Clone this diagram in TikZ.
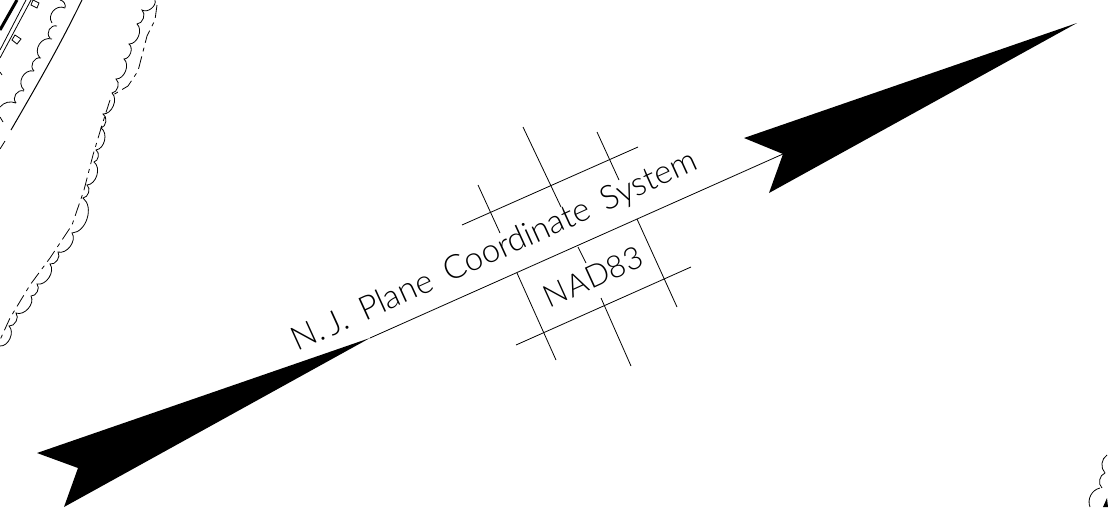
\documentclass[tikz,border=0pt]{standalone}
\usepackage{fontspec}
\newfontfamily\cadfont[WordSpace=1.7]{Lato Light}
\tikzset{
	gridline/.style={line width=0.8pt},
	arrowfill/.style={fill=black, draw=none},
	scallop/.style={bend left=70},
	scallopb/.style={bend right=75, looseness=1.25},
	dashdot/.style={line width=0.8pt, dash pattern=on 13pt off 5pt on 4pt off 5pt},
	labeltext/.style={font=\cadfont\fontsize{33}{33}\selectfont, rotate=24.5, inner sep=0pt},
	datumtext/.style={font=\cadfont\fontsize{31}{31}\selectfont, rotate=24.5, inner sep=0pt}
}
\begin{document}
\begin{tikzpicture}[x=1pt,y=-1pt]
	\useasboundingbox (0,0) rectangle (1108,507);

	% north arrow
	\coordinate (shaftsw) at (370,338);
	\coordinate (shaftne) at (783,154);
	\fill [arrowfill] (1077,23) -- (744,138) -- (shaftne) -- (769,193) -- cycle;
	\fill [arrowfill] (shaftsw) -- (37,453) -- (78,468) -- (64,507) -- cycle;
	\draw [gridline] (shaftsw) -- (shaftne);

	\node [labeltext] (planelabel) at (495,252) {N.\kern5pt J. Plane Coordinate System};
	\node [datumtext] (datumlabel) at (593,277) {N\kern2pt AD83};

	% grid
	\draw [gridline] (462,225) -- (638,147);
	\draw [gridline] (516,345) -- (691,267);
	\draw [gridline] (478,185) -- (500,233);
	\draw [gridline] (523,127) -- (561,207);
	\draw [gridline] (578,247) -- (586,263);
	\draw [gridline] (597,132) -- (619,180);
	\draw [gridline] (517,273) -- (556,360);
	\draw [gridline] (637,219) -- (677,307);
	\draw [gridline] (601,298) -- (631,366);

	% tree line, left
	\draw [gridline] (155,0) to[scallop] (142,10) to[scallop] (137,24)
		to[scallop] (129,44) to[scallop] (124,59) to[scallop] (116,79)
		to[scallop] (112,93) to[scallop] (103,114) to[scallop] (101,128)
		to[scallop] (96,150) to[scallop] (94,162) to[scallop] (87,185)
		to[scallop] (83,198) to[scallop] (72,233) to[scallop] (58,252)
		to[scallop] (50,264) to[scallop] (37,284) to[scallop] (31,296)
		to[scallop] (16,313) to[scallop] (9,326) to[scallop] (0,346);
	\draw [dashdot] (157,5) -- (155,20) -- (147,36) -- (138,71) -- (128,86) -- (113,95);
	\draw [dashdot] (110,100) -- (102,125) -- (93,155) -- (84,190) -- (72,225) -- (50,258)
		-- (30,285) -- (10,318) -- (0,340);

	% road, top left
	\draw [line width=3pt] (17,0) -- (0,30);
	\draw [gridline] (26,0) -- (0,50);
	\draw [gridline] (31,0) -- (0,58);
	\draw [gridline, fill=white] (33,0) -- (39,3) -- (37,8) -- (31,5) -- cycle;
	\draw [gridline, fill=white] (15,35) -- (21,39) -- (17,44) -- (12,40) -- cycle;
	\draw [line width=1pt] (82,0) .. controls (60,45) and (40,80) .. (11,130);
	\draw [gridline] (5,141) -- (0,149);
	\draw [gridline] (60,0) to[bend left=50] (65,8);
	\draw [gridline] (65,8) to[scallopb] (52,23);
	\draw [gridline] (57,26) to[scallopb] (50,38);
	\draw [gridline] (52,39) to[scallopb] (40,58) (41,58) to[scallopb] (34,71);
	\draw [gridline] (34,71) to[scallopb] (24,90) (24,91) to[scallopb] (16,103);
	\draw [gridline] (16,103) to[bend right=35] (0,107);
	\draw [gridline] (0,117) -- (3,122);
	\draw [gridline] (0,72) -- (2,75);

	% tree line, bottom right
	\draw [gridline] (1107,455) to[bend right=50] (1105,473) (1105,473) to[bend right=60] (1102,488);
	\draw [gridline] (1100,488) to[bend right=50] (1090,507);
	\fill [arrowfill] (1107,498) -- (1103,507) -- (1108,507) -- cycle;
\end{tikzpicture}
\end{document}
